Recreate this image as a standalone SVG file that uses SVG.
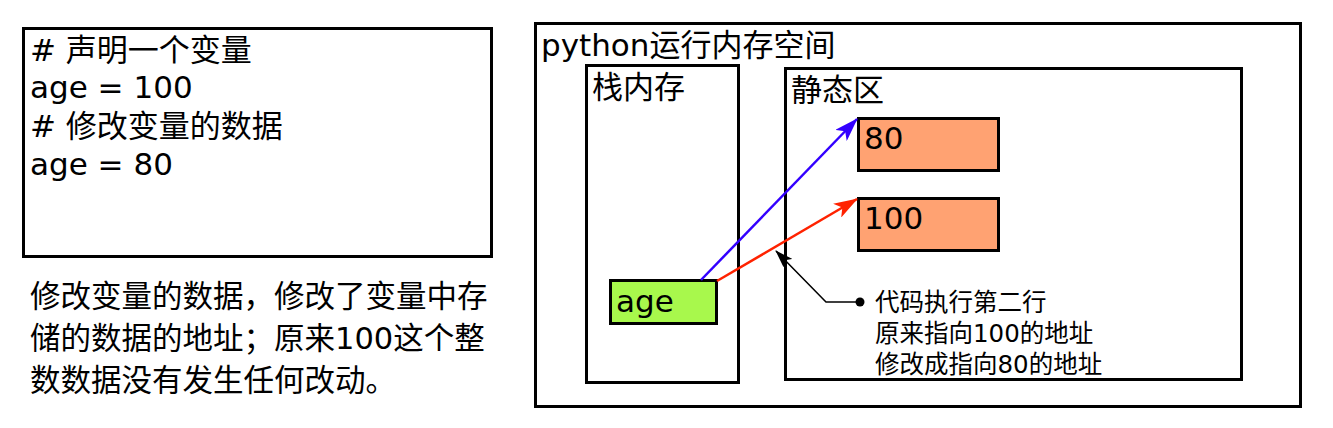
<svg xmlns="http://www.w3.org/2000/svg" width="1333" height="428" viewBox="0 0 1333 428">
<style>
.box{fill:#fff;stroke:#000;stroke-width:3}
.t{font-family:"DejaVu Sans","Noto Sans CJK SC",sans-serif;fill:#000}
.c{font-size:31px}
.s{font-size:24.5px}
.val{fill:#FFA272;stroke:#000;stroke-width:3}
.var{fill:#A8F84C;stroke:#000;stroke-width:3}
</style>
<defs>
<marker id="ab" viewBox="0 0 24 16" refX="23" refY="8" markerWidth="24" markerHeight="16" markerUnits="userSpaceOnUse" orient="auto"><path d="M0,0 L24,8 L0,16 L6,8 Z" fill="#3300FF"/></marker>
<marker id="ar" viewBox="0 0 24 16" refX="23" refY="8" markerWidth="24" markerHeight="16" markerUnits="userSpaceOnUse" orient="auto"><path d="M0,0 L24,8 L0,16 L6,8 Z" fill="#FF2200"/></marker>
<marker id="ak" viewBox="0 0 18 12" refX="17" refY="6" markerWidth="18" markerHeight="12" markerUnits="userSpaceOnUse" orient="auto"><path d="M0,0 L18,6 L0,12 L4,6 Z" fill="#000"/></marker>
</defs>
<rect width="1333" height="428" fill="#fff"/>

<g id="code">
<rect class="box" x="23.5" y="28.5" width="468" height="228"/>
<text class="t c" x="30" y="61"># 声明一个变量</text>
<text class="t c" x="30" y="98">age = 100</text>
<text class="t c" x="30" y="137"># 修改变量的数据</text>
<text class="t c" x="30" y="175">age = 80</text>
</g>

<g id="note">
<text class="t" font-size="30.5" x="30" y="307">修改变量的数据，修改了变量中存</text>
<text class="t" font-size="30.5" x="30" y="349">储的数据的地址；原来100这个整</text>
<text class="t" font-size="30.5" x="30" y="391">数数据没有发生任何改动。</text>
</g>

<g id="runtime">
<rect class="box" x="535.5" y="23.5" width="765" height="383"/>
<text class="t c" x="541" y="56">python运行内存空间</text>
</g>

<g id="stack">
<rect class="box" x="586.5" y="65.5" width="152" height="317"/>
<text class="t c" x="592" y="98">栈内存</text>
</g>

<g id="static">
<rect class="box" x="785.5" y="68.5" width="456" height="311"/>
<text class="t c" x="791" y="101">静态区</text>
</g>

<g id="v80">
<rect class="val" x="858.5" y="118.5" width="140" height="52"/>
<text class="t c" x="864" y="149">80</text>
</g>

<g id="v100">
<rect class="val" x="858.5" y="198.5" width="140" height="52"/>
<text class="t c" x="864" y="229">100</text>
</g>

<g id="age">
<rect class="var" x="610.5" y="280.5" width="106" height="43"/>
<text class="t c" x="616" y="312">age</text>
</g>

<g id="connectors">
<line x1="701" y1="280" x2="857" y2="119" stroke="#3300FF" stroke-width="2.5" marker-end="url(#ab)"/>
<line x1="717" y1="281" x2="857" y2="199" stroke="#FF2200" stroke-width="2.5" marker-end="url(#ar)"/>
<polyline points="860,302 826,302 776,251" fill="none" stroke="#000" stroke-width="1.5" marker-end="url(#ak)"/>
<circle cx="860" cy="302" r="4.5" fill="#000"/>
</g>

<g id="callout">
<text class="t s" x="875" y="311">代码执行第二行</text>
<text class="t s" x="875" y="342">原来指向100的地址</text>
<text class="t s" x="875" y="373">修改成指向80的地址</text>
</g>
</svg>
